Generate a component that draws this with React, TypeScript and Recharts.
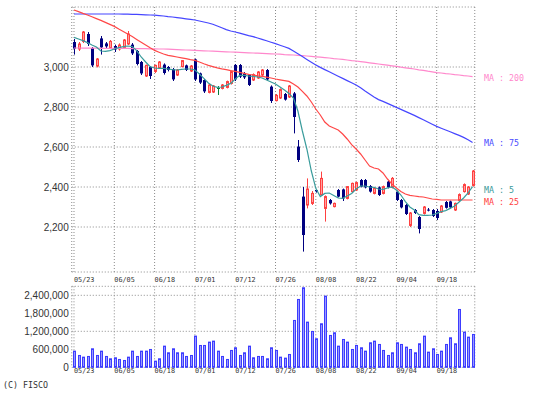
import { ComposedChart, Bar, Line, XAxis, YAxis, CartesianGrid } from 'recharts'

const dates = [
  '05/23', '05/24', '05/27', '05/28', '05/29', '05/30', '05/31', '06/03', '06/04',
  '06/05', '06/06', '06/07', '06/10', '06/11', '06/12', '06/13', '06/14', '06/17',
  '06/18', '06/19', '06/20', '06/21', '06/24', '06/25', '06/26', '06/27', '06/28',
  '07/01', '07/02', '07/03', '07/04', '07/05', '07/08', '07/09', '07/10', '07/11',
  '07/12', '07/16', '07/17', '07/18', '07/19', '07/22', '07/23', '07/24', '07/25',
  '07/26', '07/29', '07/30', '07/31', '08/01', '08/02', '08/05', '08/06', '08/07',
  '08/08', '08/09', '08/13', '08/14', '08/15', '08/16', '08/19', '08/20', '08/21',
  '08/22', '08/23', '08/26', '08/27', '08/28', '08/29', '08/30', '09/02', '09/03',
  '09/04', '09/05', '09/06', '09/09', '09/10', '09/11', '09/12', '09/13', '09/17',
  '09/18', '09/19', '09/20', '09/24', '09/25', '09/26', '09/27', '09/30', '10/01',
]

const tickDates = ['05/23', '06/05', '06/18', '07/01', '07/12', '07/26', '08/08', '08/22', '09/04', '09/18']

const opens = [
  3125, 3090, 3128, 3165, 3095, 3005, 3143, 3118, 3097, 3105,
  3090, 3098, 3115, 3112, 3080, 3025, 2955, 3000, 2978, 2995,
  3012, 3000, 2990, 2960, 3002, 3008, 2980, 3038, 2968, 2935,
  2873, 2875, 2895, 2893, 2898, 2918, 3010, 3010, 2968, 2960,
  2935, 2945, 2960, 2985, 2902, 2832, 2845, 2865, 2850, 2868,
  2602, 2352, 2310, 2318, 2385, 2360, 2293, 2335, 2302, 2385,
  2388, 2343, 2377, 2385, 2435, 2435, 2405, 2368, 2398, 2368,
  2427, 2398, 2377, 2335, 2310, 2208, 2285, 2250, 2268, 2287,
  2285, 2280, 2275, 2325, 2328, 2285, 2333, 2377, 2365, 2408,
]
const highs = [
  3140, 3125, 3180, 3175, 3100, 3045, 3155, 3125, 3135, 3112,
  3118, 3140, 3180, 3120, 3085, 3030, 3012, 3005, 3012, 3030,
  3018, 3005, 2995, 2990, 3035, 3012, 3010, 3042, 2972, 2940,
  2915, 2910, 2905, 2915, 2932, 2982, 3015, 3015, 2975, 2965,
  2968, 2980, 2990, 2990, 2908, 2865, 2893, 2870, 2910, 2875,
  2635, 2400, 2443, 2380, 2390, 2477, 2358, 2340, 2322, 2390,
  2392, 2405, 2422, 2427, 2440, 2440, 2410, 2398, 2403, 2407,
  2432, 2450, 2382, 2340, 2315, 2275, 2290, 2255, 2305, 2295,
  2290, 2290, 2310, 2330, 2332, 2322, 2368, 2418, 2405, 2485,
]
const lows = [
  3062, 3080, 3120, 3105, 3000, 2998, 3062, 3095, 3090, 3075,
  3082, 3092, 3110, 3060, 3008, 2960, 2950, 2940, 2970, 2990,
  2962, 2978, 2930, 2955, 2998, 2980, 2975, 2930, 2915, 2870,
  2868, 2870, 2860, 2888, 2893, 2912, 2930, 2945, 2940, 2905,
  2930, 2940, 2955, 2932, 2820, 2828, 2840, 2832, 2845, 2668,
  2525, 2077, 2293, 2310, 2372, 2355, 2227, 2312, 2298, 2348,
  2330, 2338, 2372, 2380, 2398, 2393, 2372, 2363, 2355, 2363,
  2393, 2393, 2330, 2293, 2260, 2200, 2265, 2168, 2262, 2278,
  2250, 2235, 2270, 2292, 2292, 2280, 2328, 2372, 2360, 2402,
]
const closes = [
  3092, 3115, 3175, 3115, 3008, 3040, 3098, 3103, 3128, 3088,
  3110, 3135, 3165, 3068, 3015, 2968, 3008, 2955, 3008, 3025,
  2970, 2985, 2938, 2985, 3032, 2985, 3005, 2938, 2922, 2878,
  2910, 2905, 2895, 2910, 2927, 2977, 2938, 2952, 2948, 2910,
  2962, 2975, 2985, 2938, 2830, 2858, 2887, 2837, 2905, 2750,
  2535, 2160, 2390, 2368, 2378, 2443, 2352, 2318, 2318, 2352,
  2343, 2402, 2418, 2422, 2402, 2398, 2377, 2393, 2360, 2402,
  2398, 2443, 2335, 2298, 2265, 2270, 2270, 2190, 2300, 2285,
  2255, 2245, 2305, 2296, 2298, 2318, 2362, 2412, 2400, 2480,
]

const ma5 = [
  3148, 3140, 3132, 3122, 3110, 3100, 3080, 3078, 3082, 3090,
  3097, 3102, 3105, 3102, 3082, 3050, 3025, 3002, 2995, 2993,
  2993, 2990, 2987, 2985, 2988, 2990, 2990, 2985, 2965, 2943,
  2920, 2905, 2898, 2900, 2908, 2918, 2940, 2958, 2958, 2955,
  2953, 2950, 2945, 2935, 2925, 2915, 2900, 2885, 2868, 2845,
  2780, 2680, 2590, 2480, 2393, 2352, 2368, 2370, 2358, 2345,
  2343, 2355, 2368, 2390, 2405, 2405, 2400, 2398, 2390, 2388,
  2395, 2400, 2385, 2360, 2327, 2300, 2285, 2262, 2258, 2258,
  2260, 2268, 2277, 2282, 2293, 2305, 2325, 2345, 2370, 2402,
]
const ma25 = [
  3285, 3277, 3268, 3260, 3251, 3242, 3233, 3223, 3213, 3203,
  3190, 3178, 3165, 3152, 3138, 3124, 3110, 3096, 3083, 3074,
  3065, 3058, 3054, 3050, 3046, 3042, 3037, 3033, 3025, 3016,
  3008, 3002, 2996, 2991, 2987, 2982, 2978, 2973, 2968, 2963,
  2960, 2956, 2953, 2949, 2945, 2940, 2936, 2932, 2928, 2915,
  2900, 2878, 2855, 2825, 2790, 2760, 2725, 2705, 2695, 2685,
  2665, 2640, 2612, 2590, 2565, 2535, 2505, 2495, 2490, 2470,
  2440, 2415, 2395, 2378, 2365, 2358, 2355, 2352, 2350, 2345,
  2340, 2338, 2335, 2335, 2335, 2335, 2335, 2335, 2335, 2335,
]
const ma75 = [
  3265, 3265, 3265, 3265, 3265, 3265, 3265, 3265, 3265, 3265,
  3265, 3264, 3264, 3263, 3263, 3262, 3261, 3260, 3259, 3257,
  3255, 3252, 3250, 3247, 3244, 3241, 3238, 3235, 3230, 3225,
  3220, 3214, 3205, 3196, 3187, 3180, 3175, 3169, 3163, 3157,
  3152, 3145, 3138, 3131, 3124, 3117, 3109, 3101, 3093, 3080,
  3066, 3052, 3038, 3024, 3010, 2998, 2987, 2976, 2965, 2954,
  2943, 2932, 2921, 2910, 2896, 2880, 2865, 2850, 2837, 2828,
  2818, 2808, 2798, 2788, 2778, 2768, 2758, 2747, 2736, 2725,
  2714, 2703, 2694, 2685, 2676, 2667, 2658, 2648, 2636, 2623,
]
const ma200 = [
  3095, 3095, 3094, 3094, 3094, 3094, 3093, 3093, 3093, 3093,
  3093, 3093, 3093, 3092, 3092, 3092, 3092, 3091, 3091, 3090,
  3090, 3089, 3088, 3087, 3086, 3085, 3084, 3083, 3082, 3081,
  3080, 3079, 3078, 3077, 3076, 3075, 3074, 3073, 3072, 3071,
  3070, 3069, 3068, 3067, 3066, 3065, 3064, 3062, 3061, 3060,
  3058, 3057, 3055, 3053, 3051, 3049, 3047, 3045, 3042, 3040,
  3038, 3035, 3032, 3030, 3027, 3024, 3021, 3018, 3015, 3012,
  3009, 3006, 3003, 2999, 2996, 2993, 2990, 2986, 2983, 2979,
  2976, 2972, 2970, 2967, 2965, 2962, 2960, 2957, 2955, 2952,
]

const volumes = [
  555000, 411000, 355000, 378000, 633000, 411000, 555000, 378000, 300000,
  333000, 278000, 244000, 355000, 555000, 378000, 555000, 555000, 611000,
  222000, 300000, 722000, 500000, 633000, 500000, 500000, 378000, 411000,
  1056000, 744000, 744000, 856000, 889000, 555000, 378000, 278000, 578000,
  667000, 411000, 500000, 722000, 333000, 378000, 378000, 300000, 667000,
  578000, 355000, 322000, 444000, 1578000, 2278000, 2667000, 1522000, 1211000,
  967000, 1467000, 2389000, 1078000, 1167000, 722000, 944000, 856000, 611000,
  744000, 667000, 555000, 833000, 889000, 778000, 578000, 411000, 500000,
  833000, 778000, 689000, 611000, 500000, 800000, 1056000, 522000, 633000,
  444000, 555000, 778000, 1000000, 800000, 1944000, 1189000, 1022000, 1111000,
]

const priceTicks = [2200, 2400, 2600, 2800, 3000]
const volumeTicks = [0, 600000, 1200000, 1800000, 2400000]

const rows = dates.map((date, i) => ({
  date,
  open: opens[i],
  high: highs[i],
  low: lows[i],
  close: closes[i],
  range: [lows[i], highs[i]],
  ma5: ma5[i],
  ma25: ma25[i],
  ma75: ma75[i],
  ma200: ma200[i],
  volume: volumes[i],
}))

const W = 538
const PLOT_LEFT = 71.76
const PLOT_RIGHT = 474.78
const mono = '"DejaVu Sans Mono", "Liberation Mono", monospace'
const sans = '"Liberation Sans", Arial, sans-serif'

function Candle(props: any) {
  const { x, y, width, height, payload } = props
  if (x == null || y == null || !payload) return null
  const { open, high, low, close } = payload
  const top = Math.min(y, y + height)
  const h = Math.abs(height)
  const toY = (p: number) => (high === low ? top : top + ((high - p) / (high - low)) * h)
  const cx = Math.round(x + width / 2)
  const up = close > open
  const doji = close === open
  const color = doji ? '#0a7a3a' : up ? '#ff4040' : '#000080'
  const bTop = toY(Math.max(open, close))
  const bBot = toY(Math.min(open, close))
  return (
    <g>
      <line x1={cx + 0.5} x2={cx + 0.5} y1={top} y2={top + h} stroke={color} strokeWidth={1} />
      {up ? (
        <rect x={cx - 0.5} y={bTop} width={2} height={Math.max(1, bBot - bTop)} fill="#ffa0a0" stroke={color} strokeWidth={1} />
      ) : (
        <rect x={cx - 1} y={bTop} width={3} height={Math.max(1, bBot - bTop)} fill={color} />
      )}
    </g>
  )
}

function VolBar(props: any) {
  const { x, y, width, height } = props
  if (x == null || y == null) return null
  const cx = Math.round(x + width / 2)
  const top = Math.min(y, y + height)
  const h = Math.abs(height)
  return <rect x={cx - 0.5} y={top + 0.5} width={2} height={Math.max(0, h - 0.5)} fill="#9a9aff" stroke="#3c3cff" strokeWidth={1} />
}

function DateTick(props: any) {
  const { x, y, payload, dyc } = props
  return (
    <text x={x} y={y + dyc} fontFamily={mono} fontSize={6.8} fill="#333" dominantBaseline="middle">
      {payload.value}
    </text>
  )
}

const fmt = (v: number) => v.toLocaleString('en-US')

export default function App() {
  return (
    <div style={{ position: 'absolute', left: 0, top: 0, width: W, height: 396, background: '#fff', overflow: 'hidden' }}>
      <div style={{ position: 'absolute', left: 0, top: 0 }}>
        <ComposedChart width={W} height={290} data={rows} margin={{ top: 7, right: W - PLOT_RIGHT, left: 0, bottom: 0 }}>
          <CartesianGrid stroke="#8a8a8a" strokeDasharray="1 2" />
          <XAxis dataKey="date" ticks={tickDates} interval={0} height={18} axisLine={false} tickLine={false} tick={<DateTick dyc={0} />} />
          <YAxis
            domain={[1975, 3300]}
            ticks={priceTicks}
            width={PLOT_LEFT}
            axisLine={false}
            tickLine={false}
            tickSize={2}
            tickMargin={1}
            tickFormatter={fmt}
            tick={{ fontFamily: sans, fontSize: 10, fill: '#333' }}
            allowDataOverflow
          />
          <Bar dataKey="range" barSize={3} isAnimationActive={false} shape={(p: any) => <Candle {...p} />} />
          <Line dataKey="ma200" stroke="#ff88cc" strokeWidth={1.2} dot={false} isAnimationActive={false} type="linear" />
          <Line dataKey="ma75" stroke="#4646ff" strokeWidth={1.2} dot={false} isAnimationActive={false} type="linear" />
          <Line dataKey="ma25" stroke="#ff4848" strokeWidth={1.2} dot={false} isAnimationActive={false} type="linear" />
          <Line dataKey="ma5" stroke="#3a9c9c" strokeWidth={1.2} dot={false} isAnimationActive={false} type="linear" />
        </ComposedChart>
      </div>
      <div style={{ position: 'absolute', left: 0, top: 280 }}>
        <ComposedChart width={W} height={105} data={rows} margin={{ top: 6.3, right: W - PLOT_RIGHT, left: 0, bottom: 0 }}>
          <CartesianGrid stroke="#8a8a8a" strokeDasharray="1 2" />
          <XAxis dataKey="date" ticks={tickDates} interval={0} height={17.7} axisLine={false} tickLine={false} tick={<DateTick dyc={-4.5} />} />
          <YAxis
            domain={[0, 2700000]}
            ticks={volumeTicks}
            width={PLOT_LEFT}
            axisLine={false}
            tickLine={false}
            tickSize={2}
            tickMargin={1}
            tickFormatter={fmt}
            tick={{ fontFamily: sans, fontSize: 10, fill: '#333' }}
          />
          <Bar dataKey="volume" barSize={3} isAnimationActive={false} shape={(p: any) => <VolBar {...p} />} />
        </ComposedChart>
      </div>
      {[
        { t: 'MA : 200', y: 78, c: '#ff88cc' },
        { t: 'MA : 75', y: 143.3, c: '#4a4aff' },
        { t: 'MA : 5', y: 190.3, c: '#3a9a9a' },
        { t: 'MA : 25', y: 201.7, c: '#ff4040' },
      ].map((m) => (
        <div
          key={m.t}
          style={{ position: 'absolute', left: 484, top: m.y, transform: 'translateY(-50%)', fontFamily: mono, fontSize: 8.3, lineHeight: 1, color: m.c, whiteSpace: 'pre' }}
        >
          {m.t}
        </div>
      ))}
      <div style={{ position: 'absolute', left: 3, top: 385, transform: 'translateY(-50%)', fontFamily: mono, fontSize: 8.3, lineHeight: 1, color: '#333', whiteSpace: 'pre' }}>
        (C) FISCO
      </div>
    </div>
  )
}
